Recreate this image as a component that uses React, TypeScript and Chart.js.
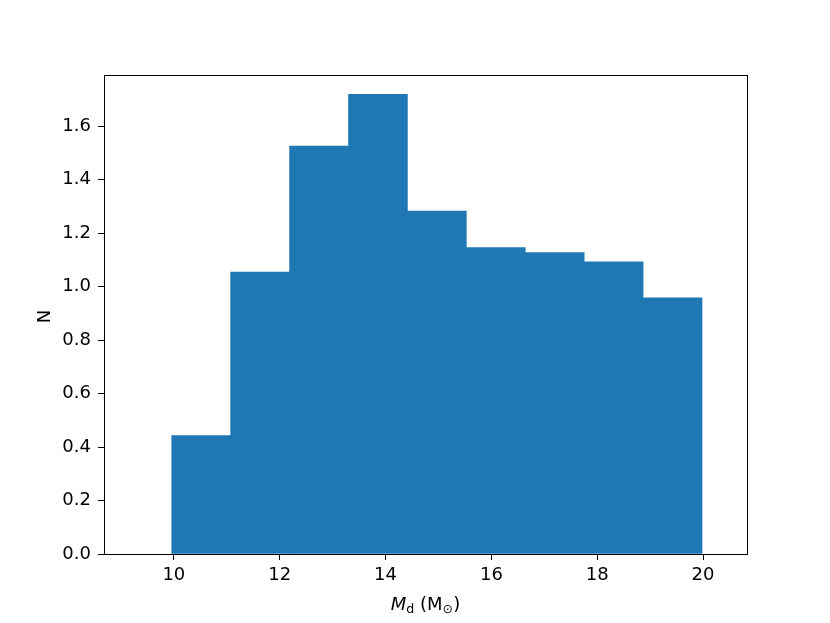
import React, { useEffect, useRef } from "react";
import { Chart, registerables } from "chart.js";

Chart.register(...registerables);

// Histogram bin edges (M_d in solar masses) and heights
const binEdges = [9.96, 11.073, 12.187, 13.3, 14.413, 15.527, 16.64, 17.753, 18.867, 19.98];
const binHeights = [0.443, 1.054, 1.526, 1.719, 1.283, 1.146, 1.127, 1.093, 0.958];
const xTicks = [10, 12, 14, 16, 18, 20];
const yTicks = [0, 0.2, 0.4, 0.6, 0.8, 1.0, 1.2, 1.4, 1.6];
const yLabel = "N";

const FONT = '"DejaVu Sans", sans-serif';

const labelPlugin = {
  id: "mplLabels",
  afterDraw(chart: any) {
    const { ctx, chartArea } = chart;
    const { left, right, top, bottom } = chartArea;
    ctx.save();
    // spines
    ctx.strokeStyle = "#000";
    ctx.lineWidth = 1;
    ctx.strokeRect(Math.round(left) + 0.5, Math.round(top) + 0.5, Math.round(right - left), Math.round(bottom - top));
    ctx.fillStyle = "#000";
    // x label: M_d (M_⊙)
    const parts = [
      { t: "M", f: `italic 18px ${FONT}`, dy: 0 },
      { t: "d", f: `12.6px ${FONT}`, dy: 3 },
      { t: " (M", f: `18px ${FONT}`, dy: 0 },
      { t: "⊙", f: `12.6px ${FONT}`, dy: 3 },
      { t: ")", f: `18px ${FONT}`, dy: 0 },
    ];
    let total = 0;
    for (const p of parts) {
      ctx.font = p.f;
      total += ctx.measureText(p.t).width;
    }
    let x = (left + right) / 2 - total / 2;
    const base = 610;
    ctx.textBaseline = "alphabetic";
    ctx.textAlign = "left";
    for (const p of parts) {
      ctx.font = p.f;
      ctx.fillText(p.t, x, base + p.dy);
      x += ctx.measureText(p.t).width;
    }
    // y label
    ctx.font = `18px ${FONT}`;
    ctx.translate(45, (top + bottom) / 2 + 2);
    ctx.rotate(-Math.PI / 2);
    ctx.textAlign = "center";
    ctx.textBaseline = "middle";
    ctx.fillText(yLabel, 0, 0);
    ctx.restore();
  },
};

export default function App() {
  const ref = useRef<HTMLCanvasElement>(null);
  useEffect(() => {
    if (!ref.current) return;
    const centers = binHeights.map((_, i) => (binEdges[i] + binEdges[i + 1]) / 2);
    const chart = new Chart(ref.current, {
      type: "bar",
      data: {
        datasets: [
          {
            data: centers.map((c, i) => ({ x: c, y: binHeights[i] })),
            backgroundColor: "#1f77b4",
            borderWidth: 0,
            barPercentage: 1,
            categoryPercentage: 1,
          },
        ],
      },
      options: {
        animation: false,
        responsive: false,
        devicePixelRatio: 1,
        layout: { padding: { top: 75, right: 83, left: 0, bottom: 0 } },
        plugins: { legend: { display: false }, tooltip: { enabled: false } },
        scales: {
          x: {
            type: "linear",
            offset: false,
            min: 8.68,
            max: 20.83,
            afterBuildTicks: (s: any) => {
              s.ticks = xTicks.map((v) => ({ value: v }));
            },
            afterFit: (s: any) => {
              s.height = 69;
            },
            grid: { display: true, offset: false, drawOnChartArea: false, drawTicks: true, tickLength: 6, color: "#000" },
            border: { display: false },
            ticks: {
              autoSkip: false,
              maxRotation: 0,
              padding: 5,
              color: "#000",
              font: { family: FONT, size: 18 },
              callback: (v: any) => String(v),
            },
          },
          y: {
            type: "linear",
            min: 0,
            max: 1.7915,
            afterBuildTicks: (s: any) => {
              s.ticks = yTicks.map((v) => ({ value: v }));
            },
            afterFit: (s: any) => {
              s.width = 104;
            },
            grid: { display: true, drawOnChartArea: false, drawTicks: true, tickLength: 6, color: "#000" },
            border: { display: false },
            ticks: {
              autoSkip: false,
              padding: 7,
              color: "#000",
              font: { family: FONT, size: 18 },
              callback: (v: any) => Number(v).toFixed(1),
            },
          },
        },
      },
      plugins: [labelPlugin],
    } as any);
    return () => chart.destroy();
  }, []);
  return (
    <div style={{ position: "absolute", left: 0, top: 0, width: 830, height: 623, background: "#fff" }}>
      <canvas ref={ref} width={830} height={623} style={{ display: "block" }} />
    </div>
  );
}
